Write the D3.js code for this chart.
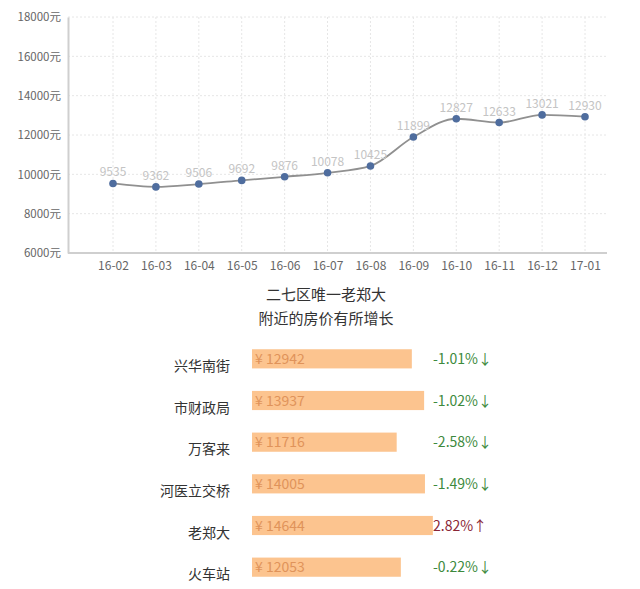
<!DOCTYPE html>
<html><head><meta charset="utf-8">
<script src="https://cdn.jsdelivr.net/npm/d3@7"></script>
<style>body{margin:0;background:#fff;}svg{display:block;}</style>
</head><body>
<svg id="c" width="640" height="589"></svg>
<script>
const months = ["16-02","16-03","16-04","16-05","16-06","16-07","16-08","16-09","16-10","16-11","16-12","17-01"];
const prices = [9535,9362,9506,9692,9876,10078,10425,11899,12827,12633,13021,12930];
const yTicks = [6000,8000,10000,12000,14000,16000,18000];
const areas = ["兴华南街","市财政局","万客来","河医立交桥","老郑大","火车站"];
const areaPrices = [12942,13937,11716,14005,14644,12053];
const changes = ["-1.01%↓","-1.02%↓","-2.58%↓","-1.49%↓","2.82%↑","-0.22%↓"];
const titleLines = ["二七区唯一老郑大","附近的房价有所增长"];

const font = "'Noto Sans CJK SC','Noto Sans',sans-serif";
const svg = d3.select("#c");

// ---- line chart ----
const L = {left:68,right:607,top:17,bottom:253};
const x = d3.scalePoint().domain(months).range([113,585]);
const y = d3.scaleLinear().domain([6000,18000]).range([L.bottom,L.top]);

const g = svg.append("g");
g.selectAll(".hg").data(yTicks.slice(1)).join("line")
  .attr("x1",L.left).attr("x2",L.right)
  .attr("y1",d=>y(d)).attr("y2",d=>y(d))
  .attr("stroke","#e6e6e6").attr("stroke-dasharray","2,2");
g.selectAll(".vg").data(months).join("line")
  .attr("x1",d=>x(d)).attr("x2",d=>x(d))
  .attr("y1",L.top).attr("y2",L.bottom)
  .attr("stroke","#e6e6e6").attr("stroke-dasharray","2,2");

const yAxis = d3.axisLeft(y).tickValues(yTicks).tickSize(0).tickPadding(7).tickFormat(d=>d+"元");
const ya = g.append("g").attr("transform",`translate(${L.left},0)`).call(yAxis);
ya.select(".domain").attr("stroke","#cfcfcf").attr("stroke-width",2);
ya.selectAll("text").attr("fill","#666").style("font-family",font).style("font-size","11.5px");

const xAxis = d3.axisBottom(x).tickSize(0).tickPadding(8);
const xa = g.append("g").attr("transform",`translate(0,${L.bottom})`).call(xAxis);
xa.select(".domain").attr("d",`M${L.left},0H${L.right}`).attr("stroke","#cfcfcf").attr("stroke-width",2);
xa.selectAll("text").attr("fill","#666").style("font-family",font).style("font-size","12px");

const line = d3.line().x((d,i)=>x(months[i])).y(d=>y(d)).curve(d3.curveMonotoneX);
g.append("path").datum(prices).attr("d",line)
  .attr("fill","none").attr("stroke","#909090").attr("stroke-width",1.8);
g.selectAll(".pt").data(prices).join("circle")
  .attr("cx",(d,i)=>x(months[i])).attr("cy",d=>y(d)).attr("r",3.8)
  .attr("fill","#4f6d9e");
g.selectAll(".vl").data(prices).join("text")
  .attr("x",(d,i)=>x(months[i])).attr("y",d=>y(d)-7)
  .attr("text-anchor","middle").attr("fill","#c4c4c4")
  .style("font-family",font).style("font-size","12px")
  .text(d=>d);

// ---- title ----
svg.selectAll(".tt").data(titleLines).join("text")
  .attr("x",326).attr("y",(d,i)=>300+i*24)
  .attr("text-anchor","middle").attr("fill","#333")
  .style("font-family",font).style("font-size","15px")
  .text(d=>d);

// ---- bar list ----
const bx = d3.scaleLinear().domain([0,16000]).range([0,197.6]);
const by = d3.scaleBand().domain(areas).range([338,588]).paddingInner(0.54).paddingOuter(0.27);
const barX = 252;
const rows = svg.append("g");
rows.selectAll(".bar").data(areas).join("rect")
  .attr("x",barX).attr("y",d=>by(d)).attr("height",by.bandwidth())
  .attr("width",(d,i)=>bx(areaPrices[i])).attr("fill","#fcc48f");
rows.selectAll(".bt").data(areas).join("text")
  .attr("x",barX+3).attr("y",d=>by(d)+by.bandwidth()/2+5)
  .attr("fill","#e0935a").style("font-family",font).style("font-size","14px")
  .text((d,i)=>"¥ "+areaPrices[i]);
rows.selectAll(".lb").data(areas).join("text")
  .attr("x",230).attr("y",d=>by(d)+by.bandwidth()/2+12)
  .attr("text-anchor","end").attr("fill","#333")
  .style("font-family",font).style("font-size","14px")
  .text(d=>d);
rows.selectAll(".ch").data(areas).join("text")
  .attr("x",433).attr("y",d=>by(d)+by.bandwidth()/2+5)
  .attr("fill",(d,i)=>changes[i].startsWith("-")?"#3d8a3d":"#8a2536")
  .style("font-family",font).style("font-size","14px")
  .text((d,i)=>changes[i]);
</script>
</body></html>
